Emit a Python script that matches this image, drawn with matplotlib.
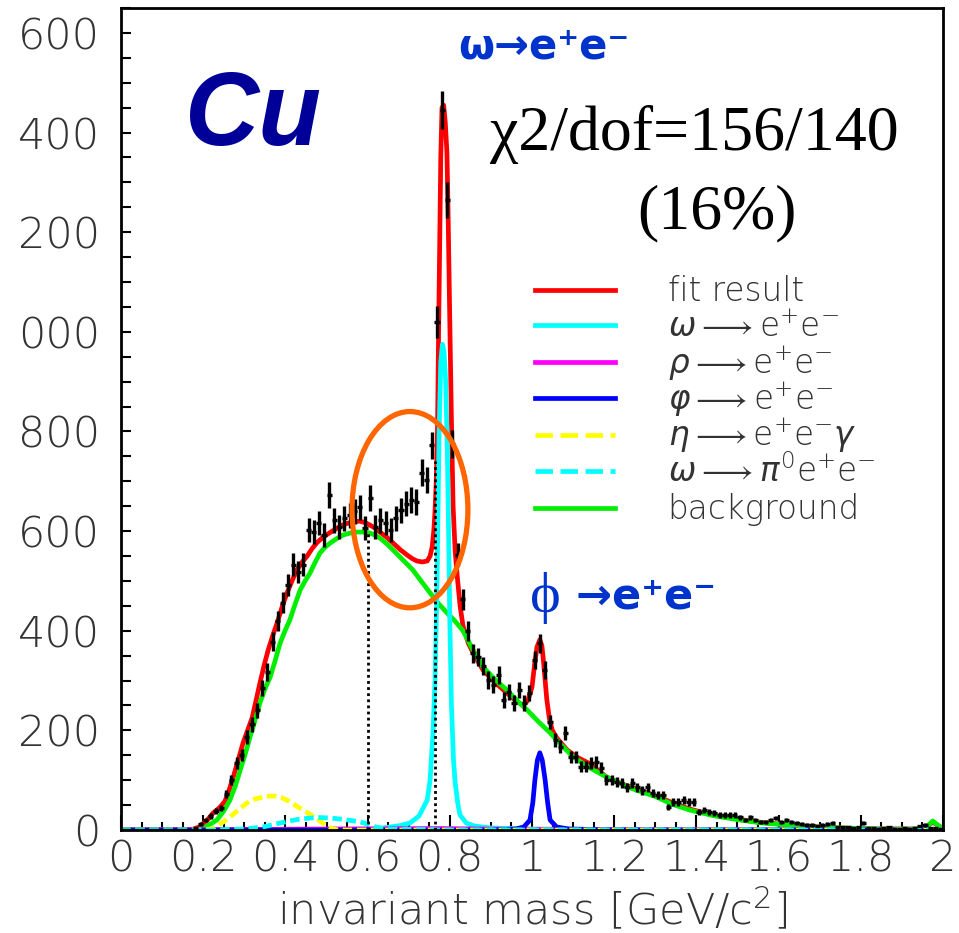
import numpy as np
import matplotlib
matplotlib.use('Agg')
import matplotlib.pyplot as plt
from matplotlib.patches import Ellipse
from matplotlib.ticker import FixedLocator, MultipleLocator

# ---- e+e- invariant mass spectrum, Cu target ----
bin_width = 0.0125  # GeV
counts = [0, 0, 0, 0, 0, 0, 0, 0, 0, 0, 0, 0, 0, 0,
          4, 12, 20, 28, 38, 44, 72, 100, 135, 150,
          187, 212, 240, 285, 317, 378, 420, 456, 492, 532,
          518, 532, 602, 598, 616, 592, 673, 622, 608, 626,
          632, 640, 648, 606, 667, 608, 622, 616, 602, 626,
          642, 655, 662, 658, 717, 703, 772, 1019, 1446, 1265,
          775, 553, 463, 400, 355, 347, 330, 301, 292, 311,
          261, 277, 255, 281, 255, 275, 341, 375, 321, 217,
          181, 167, 195, 147, 147, 127, 127, 135, 137, 125,
          100, 100, 96, 94, 86, 94, 86, 80, 86, 74,
          70, 70, 46, 56, 56, 60, 56, 56, 36, 40,
          36, 34, 30, 30, 30, 30, 26, 20, 26, 20,
          16, 16, 20, 24, 16, 20, 16, 14, 12, 10,
          10, 8, 10, 12, 14, 6, 6, 6, 4, 6,
          14, 4, 4, 2, 4, 6, 2, 2, 4, 2,
          4, 8, 10, 4, 4, 2]

# fit components (mass [GeV], counts)
fit_x = [0.0, 0.17, 0.19, 0.21, 0.224, 0.24, 0.253, 0.263, 0.273, 0.285, 0.297, 0.308, 0.319,
         0.328, 0.338, 0.348, 0.358, 0.369, 0.380, 0.392, 0.404, 0.416, 0.428, 0.440, 0.453,
         0.465, 0.477, 0.489, 0.501, 0.514, 0.526, 0.541, 0.557, 0.569, 0.581, 0.594, 0.606,
         0.618, 0.630, 0.646, 0.662, 0.679, 0.696, 0.708, 0.720, 0.733, 0.745, 0.752, 0.757,
         0.761, 0.764, 0.767, 0.770, 0.772, 0.775, 0.778, 0.781, 0.785, 0.789, 0.793, 0.796,
         0.800, 0.804, 0.808, 0.813, 0.818, 0.825, 0.832, 0.845, 0.860, 0.881, 0.910, 0.939,
         0.960, 0.978, 0.990, 1.000, 1.006, 1.012, 1.019, 1.024, 1.027, 1.032, 1.036, 1.042,
         1.049, 1.060, 1.085, 1.110, 1.141, 1.160, 1.182, 1.220, 1.263, 1.311, 1.350, 1.384,
         1.440, 1.506, 1.560, 1.628, 1.700, 1.749, 1.850, 1.930, 1.960, 1.975, 1.990, 2.0]
fit_y = [0, 0, 6, 20, 34, 45, 58, 80, 106, 140, 175, 200, 225,
         258, 295, 330, 361, 390, 416, 448, 476, 500, 522, 537, 550,
         565, 577, 586, 593, 600, 606, 613, 617, 619, 620, 617, 612,
         606, 598, 588, 576, 563, 552, 545, 540, 538, 540, 550, 568,
         600, 640, 700, 800, 950, 1150, 1350, 1450, 1455, 1420, 1360, 1230,
         1020, 820, 650, 560, 510, 450, 410, 375, 350, 321, 296, 275,
         260, 250, 260, 287, 330, 367, 382, 370, 347, 300, 262, 225,
         201, 185, 161, 146, 133, 120, 106, 92, 80, 65, 52, 42,
         30, 21, 15, 10, 6, 4, 2, 2, 6, 16, 8, 2]

bkg_x = [0.0, 0.19, 0.21, 0.233, 0.250, 0.265, 0.278, 0.290, 0.302, 0.314, 0.326, 0.338,
         0.350, 0.363, 0.375, 0.387, 0.399, 0.411, 0.423, 0.436, 0.448, 0.460, 0.472, 0.484,
         0.497, 0.509, 0.525, 0.540, 0.557, 0.574, 0.590, 0.606, 0.618, 0.630, 0.646, 0.662,
         0.686, 0.710, 0.730, 0.752, 0.772, 0.793, 0.812, 0.832, 0.856, 0.881, 0.910, 0.939,
         0.963, 0.988, 1.015, 1.044, 1.072, 1.100, 1.140, 1.182, 1.240, 1.304, 1.340, 1.384,
         1.440, 1.506, 1.560, 1.628, 1.690, 1.749, 1.850, 1.930, 1.960, 1.975, 1.990, 2.0]
bkg_y = [0, 0, 8, 20, 38, 60, 88, 120, 152, 187, 220, 255,
         283, 307, 340, 375, 400, 422, 452, 482, 500, 516, 537, 556,
         568, 576, 585, 592, 596, 598, 598, 596, 592, 586, 575, 562,
         542, 522, 500, 476, 455, 436, 420, 400, 362, 327, 302, 281,
         260, 241, 218, 195, 170, 147, 125, 106, 84, 66, 52, 40,
         29, 20, 14, 10, 6, 4, 2, 2, 6, 18, 8, 2]

omega_x = [0.0, 0.60, 0.637, 0.68, 0.703, 0.725, 0.745, 0.752, 0.759, 0.764, 0.768, 0.771,
           0.774, 0.778, 0.782, 0.786, 0.790, 0.794, 0.797, 0.800, 0.804, 0.809, 0.813, 0.820,
           0.825, 0.840, 0.860, 0.900, 1.0, 1.2, 2.0]
omega_y = [0, 0, 4, 9, 14, 28, 60, 100, 195, 300, 450, 620,
           800, 940, 975, 960, 900, 760, 600, 420, 250, 140, 95, 50,
           30, 14, 8, 4, 2, 1, 0]

rho_x = [0.0, 0.3, 0.5, 0.77, 1.0, 1.3, 2.0]
rho_y = [0, 1, 2, 3, 1, 0.5, 0]

phi_x = [0.0, 0.90, 0.96, 0.98, 0.995, 1.002, 1.007, 1.013, 1.019, 1.025, 1.032, 1.038,
         1.044, 1.060, 1.090, 1.2, 2.0]
phi_y = [0, 0, 2, 6, 20, 55, 100, 140, 155, 140, 100, 55,
         20, 6, 2, 0, 0]

eta_x = [0.0, 0.20, 0.224, 0.245, 0.265, 0.285, 0.306, 0.325, 0.345, 0.360, 0.375, 0.390,
         0.404, 0.423, 0.443, 0.463, 0.484, 0.500, 0.516, 0.530, 2.0]
eta_y = [0, 0, 3, 14, 26, 40, 54, 62, 66, 68, 68, 65,
         60, 50, 40, 30, 18, 8, 2, 0, 0]

omega_dal_x = [0.0, 0.22, 0.30, 0.345, 0.387, 0.428, 0.460, 0.484, 0.510, 0.533, 0.560,
               0.582, 0.600, 0.620, 0.640, 0.660, 0.700, 0.760, 0.780, 2.0]
omega_dal_y = [0, 0, 2, 6, 14, 21, 24, 25, 24, 22, 19,
               16, 12, 6, 3, 1.5, 1, 1, 0, 0]

# integration window markers
window_x = [0.600, 0.765]
window_top = [596, 740]

x_ticks = [0, 0.2, 0.4, 0.6, 0.8, 1.0, 1.2, 1.4, 1.6, 1.8, 2.0]
x_labels = ['0', '0.2', '0.4', '0.6', '0.8', '1', '1.2', '1.4', '1.6', '1.8', '2']
y_ticks = [0, 200, 400, 600, 800, 1000, 1200, 1400, 1600]
y_labels = ['0', '200', '400', '600', '800', '000', '200', '400', '600']

legend_labels = ['fit result',
                 r'$\omega \longrightarrow \mathrm{e}^{+}\mathrm{e}^{-}$',
                 r'$\rho \longrightarrow \mathrm{e}^{+}\mathrm{e}^{-}$',
                 r'$\varphi \longrightarrow \mathrm{e}^{+}\mathrm{e}^{-}$',
                 r'$\eta \longrightarrow \mathrm{e}^{+}\mathrm{e}^{-}\gamma$',
                 r'$\omega \longrightarrow \pi^{0}\mathrm{e}^{+}\mathrm{e}^{-}$',
                 'background']

plt.rcParams['font.family'] = ['DejaVu Sans']
plt.rcParams['font.weight'] = 'light'

fig = plt.figure(figsize=(9.59, 9.33), dpi=100)
ax = fig.add_axes([0.1262, 0.1104, 0.8571, 0.8810])

mass = np.arange(len(counts)) * bin_width + bin_width / 2
counts = np.array(counts, dtype=float)

lw = 3.4
l_fit, = ax.plot(fit_x, fit_y, color='#ff0000', lw=lw)
l_bkg, = ax.plot(bkg_x, bkg_y, color='#00ee00', lw=lw)
l_omega, = ax.plot(omega_x, omega_y, color='#00ffff', lw=lw)
l_rho, = ax.plot(rho_x, rho_y, color='#ff00ff', lw=lw)
l_phi, = ax.plot(phi_x, phi_y, color='#0000ff', lw=lw)
l_eta, = ax.plot(eta_x, eta_y, color='#ffff00', lw=lw, ls=(0, (2, 1)))
l_odal, = ax.plot(omega_dal_x, omega_dal_y, color='#00ffff', lw=lw, ls=(0, (2, 1)))

ax.errorbar(mass, counts, xerr=bin_width / 2, yerr=np.sqrt(counts), fmt='none',
            ecolor='black', elinewidth=2.4, capsize=0, zorder=4)

ax.vlines(window_x, 0, window_top, colors='black', linestyles=(0, (1, 1.2)), lw=2, zorder=5)

ax.add_patch(Ellipse((0.703, 643), 0.282, 394, fill=False, edgecolor='#ff6600', lw=3.8, zorder=6))

ax.set_xlim(0, 2)
ax.set_ylim(0, 1650)
ax.xaxis.set_major_locator(FixedLocator(x_ticks))
ax.set_xticklabels(x_labels)
ax.xaxis.set_minor_locator(MultipleLocator(0.05))
ax.yaxis.set_major_locator(FixedLocator(y_ticks))
ax.set_yticklabels(y_labels)
ax.yaxis.set_minor_locator(MultipleLocator(50))
ax.tick_params(which='both', direction='in', width=1.5, top=False, right=False, colors='black')
ax.tick_params(axis='x', which='major', length=11, pad=6, labelsize=31)
ax.tick_params(axis='x', which='minor', length=6)
ax.tick_params(axis='y', which='major', length=7, pad=15, labelsize=31)
ax.tick_params(axis='y', which='minor', length=7)
for lab in ax.get_xticklabels() + ax.get_yticklabels():
    lab.set_color('#333333')
    lab.set_fontweight('light')
for sp in ax.spines.values():
    sp.set_linewidth(2)

ax.set_xlabel('invariant mass [GeV/c$^2$]', fontsize=31, color='#333333',
              fontweight='light', labelpad=4)

# annotations
ax.text(0.078, 0.833, 'Cu', transform=ax.transAxes, fontsize=74, fontweight='bold',
        fontstyle='italic', color='#000099', family='Liberation Sans', va='baseline')
ax.text(0.410, 0.939, 'ω→e⁺e⁻', transform=ax.transAxes, fontsize=30, fontweight='bold',
        color='#0033cc', family='DejaVu Sans', va='baseline')
ax.text(0.449, 0.827, 'χ2/dof=156/140', transform=ax.transAxes, fontsize=46,
        family=['Liberation Serif', 'DejaVu Serif'], fontweight='normal', va='baseline')
ax.text(0.725, 0.732, '(16%)', transform=ax.transAxes, fontsize=46, ha='center',
        family=['Liberation Serif', 'DejaVu Serif'], fontweight='normal', va='baseline')
phi_txt = ax.text(0.498, 0.265, 'ϕ', transform=ax.transAxes, fontsize=42, color='#0033cc',
                  family=['Liberation Serif', 'DejaVu Serif'], fontweight='normal',
                  va='baseline')
ax.annotate(' →e⁺e⁻', xy=(1, 0.12), xycoords=phi_txt, fontsize=31, fontweight='bold',
            color='#0033cc', family='DejaVu Sans', va='bottom')

# legend drawn in the ROOT style
handles = [l_fit, l_omega, l_rho, l_phi, l_eta, l_odal, l_bkg]
row_y = [0.657, 0.614, 0.569, 0.525, 0.481, 0.437, 0.392]
for h, lab, y in zip(handles, legend_labels, row_y):
    ax.plot([0.504, 0.601], [y, y], transform=ax.transAxes, color=h.get_color(),
            ls=h.get_linestyle(), lw=lw, zorder=7)
    ax.text(0.665, y - 0.014, lab, transform=ax.transAxes, fontsize=23.5,
            color='#333333', fontweight='light', va='baseline', zorder=7)

fig.savefig('out.png', dpi=100)
